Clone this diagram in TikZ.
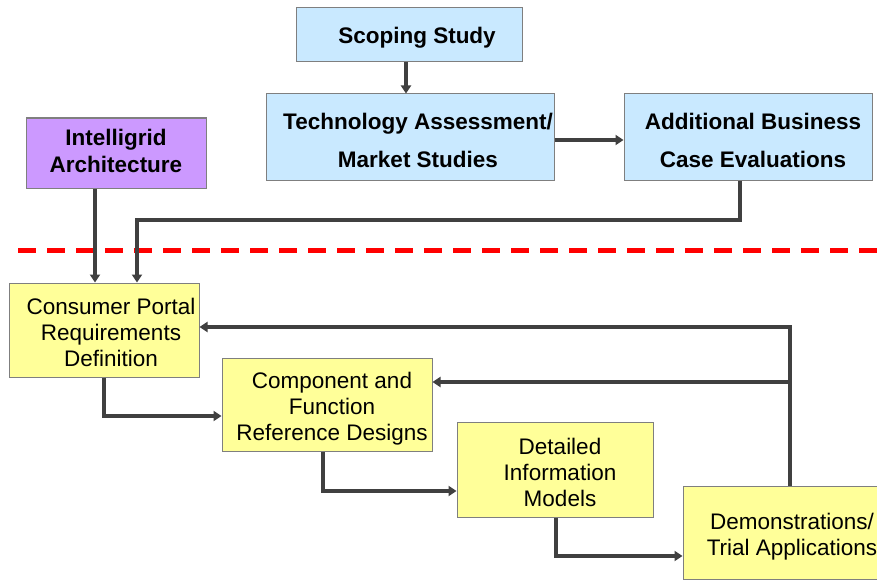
\documentclass[tikz,border=0pt]{standalone}
\usepackage{fontspec}
\setmainfont{Liberation Sans}
\usetikzlibrary{arrows.meta}
\definecolor{boxblue}{HTML}{C9E9FF}
\definecolor{boxpurple}{HTML}{CC99FF}
\definecolor{boxyellow}{HTML}{FFFF99}
\definecolor{linegray}{HTML}{404040}
\definecolor{edgegray}{HTML}{7F7F7F}
\tikzset{
  box/.style={draw=edgegray, line width=1pt, inner sep=0pt},
  topbox/.style={box, fill=boxblue},
  purplebox/.style={box, fill=boxpurple},
  lowbox/.style={box, fill=boxyellow},
  toptext/.style={align=center, inner sep=0pt, font=\fontsize{22.5}{38}\selectfont\bfseries},
  purpletext/.style={align=center, inner sep=0pt, font=\fontsize{22.5}{27}\selectfont\bfseries},
  lowtext/.style={align=center, inner sep=0pt, font=\fontsize{22.5}{26}\selectfont},
  arr/.style={draw=linegray, line width=3.6pt, -{Triangle[length=8pt,width=10pt]}},
}
\begin{document}
\begin{tikzpicture}[x=1pt,y=-1pt]
\useasboundingbox (0,0) rectangle (877,583);
\fill[white] (0,0) rectangle (877,583);

\node[topbox, minimum width=226pt, minimum height=54pt] (scope) at (409,35) {};
\node[toptext] (scopet) at ([xshift=8pt,yshift=-3pt]scope.center) {Scoping Study};
\node[topbox, minimum width=288pt, minimum height=86pt] (tech) at (410,137) {};
\node[toptext] (techt) at ([xshift=8pt,yshift=-3pt]tech.center) {Technology Assessment/\\Market Studies};
\node[topbox, minimum width=248pt, minimum height=86pt] (addl) at (748,137) {};
\node[toptext] (addlt) at ([xshift=5pt,yshift=-3pt]addl.center) {Additional Business\\Case Evaluations};
\node[purplebox, minimum width=180pt, minimum height=70pt] (intel) at (116,153) {};
\node[purpletext] (intelt) at ([yshift=2pt]intel.center) {Intelligrid\\Architecture};

\node[lowbox, minimum width=190pt, minimum height=94pt] (consumer) at (104,330) {};
\node[lowtext] (consumert) at ([xshift=7pt,yshift=-2.5pt]consumer.center) {Consumer Portal\\Requirements\\Definition};
\node[lowbox, minimum width=210pt, minimum height=93pt] (comp) at (327,404.5) {};
\node[lowtext] (compt) at ([xshift=5pt,yshift=-4pt]comp.center) {Component and\\Function\\Reference Designs};
\node[lowbox, minimum width=196pt, minimum height=95pt] (detail) at (555,469.5) {};
\node[lowtext] (detailt) at ([xshift=5pt,yshift=-3pt]detail.center) {Detailed\\Information\\Models};
\node[lowbox, minimum width=218pt, minimum height=93pt] (demo) at (792,532.5) {};
\node[lowtext] (demot) at ([yshift=-4pt]demo.center) {Demonstrations/\\Trial Applications};

\draw[red, line width=5pt, dash pattern=on 18pt off 11pt] (18,250) -- (877,250);

\coordinate (xs) at (406,0);
\draw[arr] (scope.south -| xs) -- (tech.north -| xs);
\coordinate (yt) at (0,140);
\draw[arr] (tech.east |- yt) -- (addl.west |- yt);

\coordinate (xi) at (95,0);
\draw[arr] (intel.south -| xi) -- (consumer.north -| xi);

\coordinate (c1) at (740,220);
\coordinate (c2) at (137,220);
\draw[arr] (addl.south -| c1) -- (c1) -- (c2) -- (consumer.north -| c2);

\coordinate (fb) at (790,327);
\draw[arr] (demo.north -| fb) -- (fb) -- (consumer.east |- fb);
\coordinate (fb2) at (790,382);
\draw[arr] (fb2) -- (comp.east |- fb2);

\coordinate (k1) at (104,416);
\draw[arr] (consumer.south -| k1) -- (k1) -- (comp.west |- k1);
\coordinate (k2) at (323,491);
\draw[arr] (comp.south -| k2) -- (k2) -- (detail.west |- k2);
\coordinate (k3) at (556,556);
\draw[arr] (detail.south -| k3) -- (k3) -- (demo.west |- k3);
\end{tikzpicture}
\end{document}
